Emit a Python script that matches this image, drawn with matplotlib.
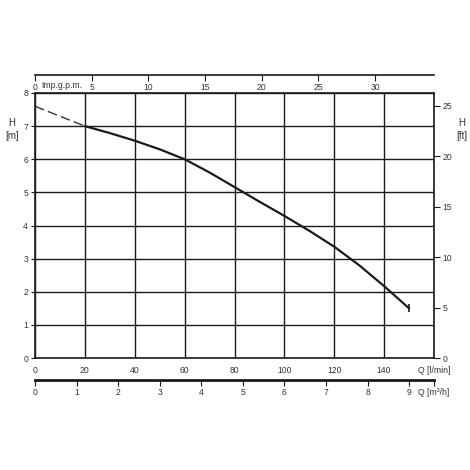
"""Pump curve H(Q) with secondary unit scales."""

import matplotlib
matplotlib.use("Agg")
import matplotlib.pyplot as plt

plt.rcParams["font.family"] = ["Liberation Sans", "DejaVu Sans"]

# flow in l/min and head in m
q_dash = [0, 20]
h_dash = [7.6, 7.0]
q_lpm = [20, 30, 40, 50, 60, 70, 80, 90, 100, 110, 120, 130, 140, 150]
h_m = [7.0, 6.79, 6.56, 6.30, 6.0, 5.60, 5.16, 4.72, 4.29, 3.84, 3.36, 2.80, 2.17, 1.50]

lpm_ticks = [0, 20, 40, 60, 80, 100, 120, 140, 160]
lpm_labels = ["0", "20", "40", "60", "80", "100", "120", "140", "Q [l/min]"]
h_ticks = [0, 1, 2, 3, 4, 5, 6, 7, 8]
ft_ticks = [0, 5, 10, 15, 20, 25]
gpm_ticks = [0, 5, 10, 15, 20, 25, 30]
m3h_ticks = [0, 1, 2, 3, 4, 5, 6, 7, 8, 9, 9.6]
m3h_labels = ["0", "1", "2", "3", "4", "5", "6", "7", "8", "9", "Q [m³/h]"]

GPM = 4.546
FT = 0.3048
INK = "#1a1a1a"
TXT = "#333333"
FS = 6.2


def main():
    fig = plt.figure(figsize=(4.7, 4.7), dpi=100)
    ax = fig.add_axes([35 / 470, 1 - 358 / 470, 399 / 470, 265 / 470])
    ax.set_xlim(0, 160)
    ax.set_ylim(0, 8)

    ax.set_xticks(lpm_ticks)
    ax.set_xticklabels(lpm_labels)
    ax.set_yticks(h_ticks)
    ax.grid(True, color=INK, lw=1.0)
    for s in ax.spines.values():
        s.set_color(INK)
        s.set_linewidth(1.2)
    ax.tick_params(colors=INK, labelcolor=TXT, labelsize=FS, length=3,
                   width=0.8, pad=2)
    ax.tick_params(axis="x", length=0, pad=6)

    ax.plot(q_dash, h_dash, color="#333333", lw=1.0, ls=(0, (7, 3)))
    ax.plot(q_lpm, h_m, color=INK, lw=1.6, solid_capstyle="round")
    ax.plot(q_lpm[-1:], h_m[-1:], marker="|", ms=6, mew=1.2, color=INK)

    # right: head in feet
    axr = ax.secondary_yaxis("right", functions=(lambda m: m / FT, lambda f: f * FT))
    axr.set_yticks(ft_ticks)
    axr.tick_params(labelsize=FS, length=4, width=0.8, colors=INK,
                    labelcolor=TXT, pad=2)
    axr.spines["right"].set_visible(False)

    # top: Imp. g.p.m.
    axt = ax.secondary_xaxis(1 + 18 / 265, functions=(lambda q: q / GPM, lambda g: g * GPM))
    axt.set_alignment("bottom")
    axt.set_xticks(gpm_ticks)
    axt.tick_params(labelsize=FS, length=4, width=0.8, colors=INK,
                    labelcolor=TXT, pad=2)
    axt.spines["bottom"].set_linewidth(1.2)
    axt.spines["bottom"].set_color(INK)

    # bottom: m3/h
    axb = ax.secondary_xaxis(-22 / 265, functions=(lambda q: q * 0.06, lambda m: m / 0.06))
    axb.set_xticks(m3h_ticks)
    axb.set_xticklabels(m3h_labels)
    axb.tick_params(labelsize=FS, length=4, width=0.8, colors=INK,
                    labelcolor=TXT, pad=2)
    axb.spines["bottom"].set_linewidth(2.0)
    axb.spines["bottom"].set_color(INK)

    fig.text(62 / 470, 1 - 86 / 470, "Imp.g.p.m.", fontsize=FS, color=TXT,
             ha="center", va="center")
    for x, lab in [(12, "[m]"), (462, "[ft]")]:
        fig.text(x / 470, 1 - 123 / 470, "H", fontsize=FS + 0.8, color=TXT,
                 ha="center", va="center")
        fig.text(x / 470, 1 - 136 / 470, lab, fontsize=FS + 0.8, color=TXT,
                 ha="center", va="center")

    fig.savefig("out.png", dpi=100)


if __name__ == "__main__":
    main()
